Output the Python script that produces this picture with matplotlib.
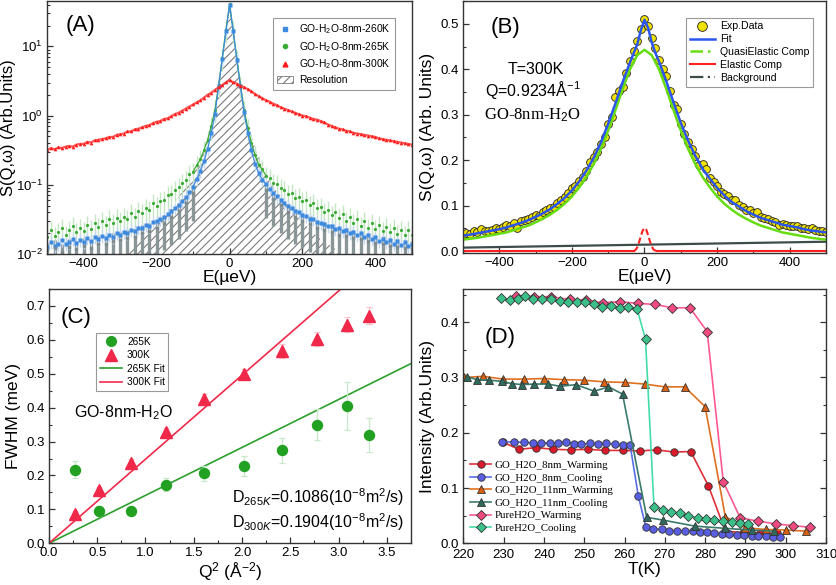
import numpy as np
import matplotlib
matplotlib.use("Agg")
from matplotlib import pyplot as plt
from matplotlib.lines import Line2D
from matplotlib.patches import Patch
from matplotlib.ticker import MultipleLocator, LogLocator, NullFormatter

plt.rcParams["font.family"] = ["Liberation Sans", "DejaVu Sans"]
plt.rcParams["mathtext.fontset"] = "custom"
plt.rcParams["mathtext.rm"] = "Liberation Sans"
plt.rcParams["mathtext.it"] = "Liberation Sans:italic"
plt.rcParams["mathtext.bf"] = "Liberation Sans:bold"
plt.rcParams["hatch.linewidth"] = 0.8
plt.rcParams["axes.linewidth"] = 1.0
plt.rcParams["axes.edgecolor"] = "#333333"

# ---------------- panel A : spectra on log scale (log10 values) ----------------
e_a = np.arange(-500, 501, 10)
red_300k_log = [
    -0.50, -0.47, -0.49, -0.46, -0.47, -0.45, -0.44, -0.45, -0.42, -0.41,
    -0.41, -0.38, -0.39, -0.36, -0.35, -0.34, -0.33, -0.31, -0.31, -0.28,
    -0.27, -0.26, -0.23, -0.23, -0.20, -0.19, -0.17, -0.15, -0.14, -0.11,
    -0.09, -0.08, -0.05, -0.04, -0.01, 0.02, 0.04, 0.07, 0.10, 0.13,
    0.16, 0.19, 0.22, 0.26, 0.30, 0.33, 0.37, 0.41, 0.44, 0.48,
    0.51,
    0.48, 0.46, 0.43, 0.41, 0.38, 0.35, 0.31, 0.28, 0.25, 0.22,
    0.20, 0.17, 0.15, 0.12, 0.10, 0.08, 0.06, 0.04, 0.02, 0.00,
    -0.01, -0.03, -0.05, -0.06, -0.08, -0.10, -0.13, -0.15, -0.17, -0.19,
    -0.20, -0.22, -0.23, -0.25, -0.26, -0.27, -0.28, -0.29, -0.30, -0.31,
    -0.33, -0.34, -0.35, -0.36, -0.37, -0.38, -0.39, -0.40, -0.41, -0.42,
]
blue_260k_log = [
    -1.90, -1.83, -1.88, -1.85, -1.80, -1.86, -1.83, -1.78, -1.84, -1.80,
    -1.83, -1.77, -1.81, -1.75, -1.79, -1.74, -1.77, -1.72, -1.75, -1.70,
    -1.73, -1.68, -1.70, -1.65, -1.67, -1.62, -1.63, -1.58, -1.59, -1.54,
    -1.53, -1.49, -1.47, -1.42, -1.38, -1.34, -1.29, -1.23, -1.18, -1.10,
    -1.03, -0.92, -0.80, -0.66, -0.48, -0.25, 0.02, 0.42, 0.82, 1.22,
    1.60,
    1.22, 0.80, 0.42, 0.05, -0.25, -0.50, -0.70, -0.83, -0.93, -0.99,
    -1.06, -1.12, -1.17, -1.22, -1.27, -1.31, -1.34, -1.38, -1.40, -1.44,
    -1.45, -1.49, -1.50, -1.54, -1.55, -1.57, -1.60, -1.59, -1.64, -1.63,
    -1.67, -1.65, -1.70, -1.68, -1.72, -1.70, -1.76, -1.73, -1.78, -1.76,
    -1.81, -1.78, -1.83, -1.80, -1.85, -1.81, -1.87, -1.83, -1.89, -1.86,
]
green_265k_log = [
    -1.76, -1.66, -1.74, -1.68, -1.62, -1.73, -1.66, -1.60, -1.69, -1.62,
    -1.67, -1.58, -1.64, -1.55, -1.61, -1.53, -1.58, -1.50, -1.56, -1.48,
    -1.53, -1.46, -1.49, -1.41, -1.46, -1.38, -1.41, -1.33, -1.36, -1.27,
    -1.31, -1.23, -1.22, -1.15, -1.13, -1.07, -1.04, -0.97, -0.93, -0.85,
    -0.81, -0.72, -0.63, -0.50, -0.35, -0.15, 0.08, 0.44, 0.83, 1.23,
    1.61,
    1.23, 0.82, 0.44, 0.08, -0.18, -0.40, -0.57, -0.71, -0.78, -0.87,
    -0.90, -0.97, -0.99, -1.05, -1.07, -1.13, -1.12, -1.19, -1.18, -1.24,
    -1.22, -1.29, -1.27, -1.34, -1.32, -1.39, -1.36, -1.44, -1.40, -1.48,
    -1.43, -1.52, -1.47, -1.56, -1.50, -1.59, -1.53, -1.63, -1.56, -1.64,
    -1.58, -1.67, -1.61, -1.69, -1.63, -1.71, -1.65, -1.73, -1.66, -1.72,
]
spec_rel_err = 0.35
# resolution function (hatched area) and raw resolution points in the wings
res_e = [-500, -300, -230, -185, -150, -120, -100, -75, -60, -45, -30, -20, -15, -10, 0,
         10, 15, 20, 30, 45, 60, 75, 100, 120, 150, 195, 240, 310, 500]
res_log = [-2.3, -2.05, -1.75, -1.5, -1.25, -1.03, -0.85, -0.55, -0.3, 0.0, 0.5, 0.75, 0.95, 1.1, 1.61,
           1.1, 0.95, 0.75, 0.5, 0.0, -0.3, -0.55, -0.85, -1.03, -1.25, -1.51, -1.75, -2.0, -2.3]
res_pts_e = [-500, -480, -460, -440, -420, -400, -380, -360, -340, -320, -300, -280, -260, -240,
             -220, -200, -180, -160, -140, -120, -100,
             100, 120, 140, 160, 180, 200, 220, 240, 260, 280, 300, 320, 340, 360, 380,
             400, 420, 440, 460, 480, 500]
res_pts_log = [-1.95, -1.92, -1.97, -1.90, -1.93, -1.88, -1.91, -1.85, -1.86, -1.81, -1.80, -1.77,
               -1.75, -1.70, -1.67, -1.62, -1.55, -1.47, -1.38, -1.27, -1.12,
               -1.08, -1.20, -1.30, -1.39, -1.46, -1.52, -1.57, -1.62, -1.66, -1.68, -1.72,
               -1.74, -1.77, -1.79, -1.81, -1.84, -1.86, -1.88, -1.90, -1.91, -1.93]
res_rel_err = 0.6

# ---------------- panel B : T=300K fit ----------------
e_b = np.arange(-500, 501, 10)
exp_data = [
    0.036, 0.040, 0.037, 0.044, 0.041, 0.048, 0.045, 0.043, 0.047, 0.050,
    0.049, 0.053, 0.058, 0.056, 0.061, 0.050, 0.066, 0.068, 0.071, 0.074,
    0.080, 0.077, 0.086, 0.090, 0.094, 0.097, 0.105, 0.113, 0.119, 0.128,
    0.138, 0.143, 0.155, 0.164, 0.176, 0.197, 0.207, 0.219, 0.236, 0.250,
    0.279, 0.296, 0.338, 0.352, 0.362, 0.392, 0.418, 0.440, 0.462, 0.488,
    0.510,
    0.495, 0.470, 0.448, 0.420, 0.400, 0.385, 0.352, 0.322, 0.312, 0.279,
    0.258, 0.240, 0.225, 0.210, 0.190, 0.192, 0.181, 0.160, 0.151, 0.143,
    0.130, 0.126, 0.122, 0.112, 0.112, 0.101, 0.097, 0.091, 0.091, 0.083,
    0.085, 0.076, 0.072, 0.070, 0.067, 0.064, 0.058, 0.059, 0.058, 0.056,
    0.055, 0.056, 0.050, 0.051, 0.048, 0.050, 0.047, 0.044, 0.043, 0.042,
]
fit_e = [-500, -480, -460, -440, -420, -400, -380, -360, -340, -320, -300, -280, -260, -240,
         -220, -200, -180, -160, -140, -120, -100, -80, -60, -40, -30, -20, -10, 0,
         10, 20, 30, 40, 60, 80, 100, 120, 140, 160, 180, 200, 220, 240, 260, 280, 300,
         320, 340, 360, 380, 400, 420, 440, 460, 480, 500]
fit_val = [0.034, 0.036, 0.039, 0.042, 0.045, 0.048, 0.052, 0.057, 0.062, 0.068, 0.075, 0.083,
           0.092, 0.104, 0.117, 0.133, 0.153, 0.177, 0.205, 0.239, 0.280, 0.325, 0.372, 0.415,
           0.435, 0.455, 0.486, 0.509,
           0.491, 0.459, 0.436, 0.417, 0.374, 0.327, 0.282, 0.243, 0.209, 0.181, 0.159, 0.139,
           0.122, 0.108, 0.098, 0.088, 0.080, 0.073, 0.068, 0.063, 0.058, 0.055, 0.052, 0.048,
           0.045, 0.043, 0.041]
qe_e = [-500, -480, -460, -440, -420, -400, -380, -360, -340, -320, -300, -280, -260, -240,
        -220, -200, -180, -160, -140, -120, -100, -80, -60, -40, -20, 0,
        20, 40, 60, 80, 100, 120, 140, 160, 180, 200, 220, 240, 260, 280, 300,
        320, 340, 360, 380, 400, 420, 440, 460, 480, 500]
qe_val = [0.025, 0.027, 0.029, 0.032, 0.035, 0.038, 0.041, 0.046, 0.051, 0.056, 0.063, 0.071,
          0.080, 0.091, 0.104, 0.120, 0.140, 0.163, 0.191, 0.225, 0.265, 0.310, 0.357, 0.400,
          0.431, 0.443,
          0.431, 0.400, 0.357, 0.310, 0.265, 0.225, 0.191, 0.163, 0.140, 0.120, 0.104, 0.091,
          0.080, 0.071, 0.063, 0.056, 0.051, 0.046, 0.041, 0.038, 0.035, 0.032, 0.029, 0.027,
          0.025]
el_e = [-500, -30, -25, -20, -15, -10, -5, 0, 5, 10, 15, 20, 25, 30, 35, 500]
el_val = [0.0, 0.0, 0.002, 0.008, 0.019, 0.033, 0.045, 0.051, 0.047, 0.035, 0.021,
          0.010, 0.003, 0.001, 0.0, 0.0]
bg_e = [-500, 500]
bg_val = [0.0075, 0.0205]

# ---------------- panel C : FWHM vs Q^2 ----------------
q2 = [0.27, 0.52, 0.845, 1.21, 1.61, 2.02, 2.41, 2.78, 3.09, 3.32]
fwhm_265 = [0.217, 0.095, 0.095, 0.173, 0.207, 0.227, 0.275, 0.350, 0.405, 0.320]
err_265 = [0.025, 0.015, 0.012, 0.02, 0.022, 0.03, 0.037, 0.045, 0.07, 0.05]
fwhm_300 = [0.085, 0.157, 0.237, 0.327, 0.425, 0.500, 0.567, 0.602, 0.645, 0.671]
err_300 = [0.01, 0.01, 0.012, 0.012, 0.015, 0.015, 0.02, 0.02, 0.022, 0.025]
q2_fit = [0.0, 3.75]
fit_265 = [0.0, 0.53]
fit_300 = [0.0, 0.93]

# ---------------- panel D : intensity vs T ----------------
t_8w = [229.8, 233.8, 238.0, 242.3, 246.6, 250.9, 255.2, 259.5, 263.8, 268.0, 272.3, 276.4,
        280.8, 285.0, 289.3, 293.5, 297.7]
i_8w = [0.183, 0.170, 0.173, 0.170, 0.169, 0.170, 0.168, 0.168, 0.167, 0.169, 0.165, 0.166,
        0.104, 0.022, 0.019, 0.018, 0.018]
t_8c = [229.6, 232.7, 235.1, 237.3, 239.3, 241.4, 243.5, 245.4, 247.5, 249.3, 251.4, 253.4,
        255.5, 257.6, 259.5, 261.4, 263.4, 265.3, 267.1, 269.2, 271.1, 273.1, 275.0, 277.1,
        278.7, 280.4, 282.3, 284.1, 286.0, 287.8, 289.7, 291.6, 293.2, 295.0, 296.9, 298.6]
i_8c = [0.184, 0.183, 0.183, 0.181, 0.182, 0.181, 0.182, 0.183, 0.180, 0.179, 0.181, 0.180,
        0.181, 0.179, 0.178, 0.177, 0.086, 0.029, 0.026, 0.025, 0.023, 0.023, 0.022, 0.022,
        0.020, 0.020, 0.019, 0.017, 0.016, 0.015, 0.015, 0.014, 0.014, 0.013, 0.012, 0.012]
t_11w = [220.3, 225.0, 229.8, 235.1, 240.0, 244.9, 249.9, 254.9, 260.0, 265.0, 270.0, 274.9,
         280.0, 285.0, 290.0, 295.0, 300.0, 305.0]
i_11w = [0.300, 0.302, 0.297, 0.297, 0.298, 0.296, 0.295, 0.292, 0.291, 0.288, 0.283, 0.283,
         0.247, 0.048, 0.028, 0.025, 0.024, 0.022]
t_11c = [221.0, 223.5, 226.5, 229.5, 232.0, 234.5, 237.5, 241.0, 244.0, 248.0, 252.5, 256.0,
         259.5, 265.5, 269.5, 277.5, 285.0, 291.5, 297.0]
i_11c = [0.301, 0.296, 0.295, 0.293, 0.289, 0.287, 0.288, 0.288, 0.284, 0.287, 0.275, 0.283,
         0.270, 0.047, 0.042, 0.031, 0.027, 0.024, 0.022]
t_pw = [233.0, 237.5, 241.8, 246.4, 250.5, 254.7, 258.8, 263.3, 267.6, 271.8, 276.2, 280.5,
        284.5, 288.7, 293.2, 297.6, 301.7, 306.0]
i_pw = [0.447, 0.446, 0.446, 0.441, 0.440, 0.435, 0.437, 0.434, 0.432, 0.426, 0.426, 0.383,
        0.111, 0.046, 0.040, 0.035, 0.032, 0.029]
t_pc = [229.4, 231.5, 233.5, 235.4, 237.3, 239.5, 241.7, 243.9, 246.0, 248.1, 250.2, 252.4,
        254.5, 256.6, 258.8, 260.9, 263.1, 265.2, 267.3, 269.5, 271.5, 273.8, 275.8, 278.1,
        280.2, 282.3, 284.5, 286.6, 288.7, 290.7]
i_pc = [0.444, 0.440, 0.442, 0.447, 0.441, 0.441, 0.441, 0.439, 0.437, 0.436, 0.437, 0.433,
        0.428, 0.430, 0.426, 0.427, 0.424, 0.369, 0.066, 0.061, 0.057, 0.054, 0.050, 0.046,
        0.044, 0.042, 0.040, 0.038, 0.036, 0.034]


def style_axes(ax):
    ax.tick_params(which="both", direction="in", top=False, right=False,
                   labelsize=9.5, color="#333333", pad=3)
    ax.tick_params(which="major", length=4, width=0.9)
    ax.tick_params(which="minor", length=2.2, width=0.8)


fig = plt.figure(figsize=(8.37, 5.85), dpi=100)

# ---------------- A ----------------
axA = fig.add_axes([0.0565, 0.566, 0.4355, 0.432])
axA.set_yscale("log")
axA.fill_between(res_e, 10 ** np.array(res_log), 1e-3, facecolor="none",
                 edgecolor="#7a7a7a", hatch="////", linewidth=0)
res_y = 10 ** np.array(res_pts_log)
axA.errorbar(res_pts_e, res_y, yerr=[res_y * res_rel_err, res_y * 0.3], fmt="s", ms=1.5,
             color="#7d8a8e", ecolor="#8a9598", elinewidth=2.4, capsize=0)
green_y = 10 ** np.array(green_265k_log)
blue_y = 10 ** np.array(blue_260k_log)
red_y = 10 ** np.array(red_300k_log)
axA.errorbar(e_a, green_y, yerr=green_y * spec_rel_err, fmt="none", ecolor="#c6e6c3",
             elinewidth=1.0, capsize=0)
axA.errorbar(e_a, blue_y, yerr=blue_y * spec_rel_err * 0.6, fmt="none", ecolor="#c4d8f2",
             elinewidth=1.0, capsize=0)
axA.plot(e_a, green_y, "o", ms=2.3, color="#3aab35", mec="none")
axA.plot(e_a[40:61], green_y[40:61], "-", lw=0.9, color="#3aab35")
axA.plot(e_a, blue_y, "s", ms=2.2, color="#3d8be0", mec="none")
axA.plot(e_a[40:61], blue_y[40:61], "-", lw=0.9, color="#3d8be0")
axA.plot(e_a, red_y, "-", lw=1.6, color="#ff3030", alpha=0.8)
axA.plot(e_a, red_y, "^", ms=2.6, color="#ff1a1a", mec="none")
axA.set_xlim(-500, 500)
axA.set_ylim(0.01, 45)
axA.xaxis.set_major_locator(MultipleLocator(200))
axA.xaxis.set_minor_locator(MultipleLocator(100))
axA.yaxis.set_minor_locator(LogLocator(base=10, subs=np.arange(2, 10)))
axA.yaxis.set_minor_formatter(NullFormatter())
style_axes(axA)
axA.set_xlabel("E(µeV)", fontsize=12.5, labelpad=0)
axA.set_ylabel("S(Q,ω) (Arb.Units)", fontsize=12, labelpad=0)
axA.text(0.09, 0.905, "(A)", transform=axA.transAxes, fontsize=16, ha="center", va="center")
handlesA = [
    Line2D([], [], marker="s", ls="none", color="#3d8be0", ms=3),
    Line2D([], [], marker="o", ls="none", color="#3aab35", ms=3),
    Line2D([], [], marker="^", ls="none", color="#ff1a1a", ms=3.5),
    Patch(facecolor="none", edgecolor="#7a7a7a", hatch="////", linewidth=0.6),
]
legA = axA.legend(handlesA, ["GO-H$_2$O-8nm-260K", "GO-H$_2$O-8nm-265K", "GO-H$_2$O-8nm-300K",
                             "Resolution"],
                  loc="upper right", bbox_to_anchor=(0.955, 0.935), borderaxespad=0,
                  fontsize=7.4, fancybox=False, edgecolor="#999999", framealpha=1,
                  borderpad=0.45, labelspacing=0.38, handlelength=1.5, handletextpad=0.6)
legA.get_frame().set_linewidth(0.8)

# ---------------- B ----------------
axB = fig.add_axes([0.553, 0.567, 0.434, 0.431])
axB.plot(e_b, exp_data, "o", ms=5.6, mfc="#f2e200", mec="#222222", mew=0.6)
axB.plot(bg_e, bg_val, "-", color="#3d4b4b", lw=1.6)
axB.plot([el_e[0], el_e[1]], [el_val[0], el_val[1]], "-", color="#ff2020", lw=1.5)
axB.plot([el_e[-2], el_e[-1]], [el_val[-2], el_val[-1]], "-", color="#ff2020", lw=1.5)
axB.plot(el_e[1:-1], el_val[1:-1], "--", color="#ff2020", lw=1.5, dashes=(3, 1.5))
axB.plot(qe_e, qe_val, "-", color="#66dd11", lw=1.8)
axB.plot(fit_e, fit_val, "-", color="#2a55ee", lw=1.8)
axB.set_xlim(-500, 500)
axB.set_ylim(-0.005, 0.55)
axB.xaxis.set_major_locator(MultipleLocator(200))
axB.xaxis.set_minor_locator(MultipleLocator(100))
axB.yaxis.set_major_locator(MultipleLocator(0.1))
axB.yaxis.set_minor_locator(MultipleLocator(0.05))
style_axes(axB)
axB.set_xlabel("E(μeV)", fontsize=12.5, labelpad=0)
axB.set_ylabel("S(Q,ω) (Arb. Units)", fontsize=12.5, labelpad=4)
axB.text(0.118, 0.897, "(B)", transform=axB.transAxes, fontsize=16, ha="center", va="center")
axB.text(0.2, 0.73, "T=300K", transform=axB.transAxes, fontsize=11.5, ha="center", va="center")
axB.text(0.193, 0.647, "Q=0.9234Å$^{-1}$", transform=axB.transAxes, fontsize=11.5,
         ha="center", va="center")
axB.text(0.193, 0.548, "GO-8nm-H$_2$O", transform=axB.transAxes, fontsize=12,
         family="Liberation Serif", ha="center", va="center")
handlesB = [
    Line2D([], [], marker="o", ls="none", mfc="#f2e200", mec="#222222", ms=7, mew=0.6),
    Line2D([], [], color="#2a55ee", lw=1.8),
    Line2D([], [], color="#66dd11", lw=1.8, ls=(0, (5, 2, 1, 2, 1, 2))),
    Line2D([], [], color="#ff2020", lw=1.5),
    Line2D([], [], color="#3d4b4b", lw=1.6, ls=(0, (6, 2, 1, 2))),
]
legB = axB.legend(handlesB, ["Exp.Data", "Fit", "QuasiElastic Comp", "Elastic Comp", "Background"],
                  loc="upper right", bbox_to_anchor=(0.965, 0.935), borderaxespad=0,
                  fontsize=7.6, fancybox=False, edgecolor="#999999", framealpha=1,
                  borderpad=0.35, labelspacing=0.28, handlelength=2.4, handletextpad=0.5)
legB.get_frame().set_linewidth(0.8)

# ---------------- C ----------------
axC = fig.add_axes([0.0585, 0.0713, 0.4325, 0.4347])
axC.plot(q2_fit, fit_265, "-", color="#2ca02c", lw=1.2)
axC.plot(q2_fit, fit_300, "-", color="#f02a4a", lw=1.2)
axC.errorbar(q2, fwhm_265, yerr=err_265, fmt="o", ms=7.2, color="#22a022", mec="#22a022",
             ecolor="#c9e8c9", elinewidth=0.9, capsize=2.5, capthick=0.9)
axC.errorbar(q2, fwhm_300, yerr=err_300, fmt="^", ms=8.2, color="#f0284a", mec="#f0284a",
             ecolor="#f7c3cc", elinewidth=0.9, capsize=2.5, capthick=0.9)
axC.set_xlim(0, 3.75)
axC.set_ylim(0, 0.75)
axC.xaxis.set_major_locator(MultipleLocator(0.5))
axC.xaxis.set_minor_locator(MultipleLocator(0.25))
axC.yaxis.set_major_locator(MultipleLocator(0.1))
axC.yaxis.set_minor_locator(MultipleLocator(0.05))
style_axes(axC)
axC.set_xlabel("Q$^2$ (Å$^{-2}$)", fontsize=12.5, labelpad=1)
axC.set_ylabel("FWHM (meV)", fontsize=12.5, labelpad=4)
axC.text(0.075, 0.886, "(C)", transform=axC.transAxes, fontsize=16, ha="center", va="center")
axC.text(0.069, 0.513, "GO-8nm-H$_2$O", transform=axC.transAxes, fontsize=11.5,
         ha="left", va="center")
axC.text(0.506, 0.182, "D$_{265K}$=0.1086(10$^{-8}$m$^2$/s)", transform=axC.transAxes,
         fontsize=11.5, ha="left", va="center")
axC.text(0.506, 0.084, "D$_{300K}$=0.1904(10$^{-8}$m$^2$/s)", transform=axC.transAxes,
         fontsize=11.5, ha="left", va="center")
handlesC = [
    Line2D([], [], marker="o", ls="none", color="#22a022", ms=7),
    Line2D([], [], marker="^", ls="none", color="#f0284a", ms=8),
    Line2D([], [], color="#2ca02c", lw=1.2),
    Line2D([], [], color="#f02a4a", lw=1.2),
]
legC = axC.legend(handlesC, ["265K", "300K", "265K Fit", "300K Fit"], loc="upper left",
                  bbox_to_anchor=(0.13, 0.827), borderaxespad=0, fontsize=7.3,
                  fancybox=False, edgecolor="#999999", framealpha=1, borderpad=0.35,
                  labelspacing=0.35, handlelength=2.2, handletextpad=0.5)
legC.get_frame().set_linewidth(0.8)

# ---------------- D ----------------
axD = fig.add_axes([0.5535, 0.0713, 0.4335, 0.4347])
series_d = [
    (t_8w, i_8w, "o", "#d81a2a", "#e0303a", "GO_H2O_8nm_Warming"),
    (t_8c, i_8c, "o", "#5a5ee0", "#5a6ee8", "GO_H2O_8nm_Cooling"),
    (t_11w, i_11w, "^", "#d9600e", "#e07020", "GO_H2O_11nm_Warming"),
    (t_11c, i_11c, "^", "#2f6b5c", "#3a7a6a", "GO_H2O_11nm_Cooling"),
    (t_pw, i_pw, "D", "#f04a80", "#ff5a8e", "PureH2O_Warming"),
    (t_pc, i_pc, "D", "#3cc08a", "#44dda6", "PureH2O_Cooling"),
]
for t, inten, mk, fc, lc, lab in series_d:
    ms = 5.4 if mk != "D" else 4.8
    axD.plot(t, inten, "-", color=lc, lw=1.2, marker=mk, ms=ms, mfc=fc, mec="#333333",
             mew=0.6, label=lab)
axD.set_xlim(220, 310)
axD.set_ylim(0, 0.46)
axD.xaxis.set_major_locator(MultipleLocator(10))
axD.yaxis.set_major_locator(MultipleLocator(0.1))
axD.yaxis.set_minor_locator(MultipleLocator(0.05))
style_axes(axD)
axD.tick_params(which="both", right=True)
axD.tick_params(axis="x", pad=4)
axD.set_xlabel("T(K)", fontsize=12.5, labelpad=1)
axD.set_ylabel("Intensity (Arb.Units)", fontsize=12.5, labelpad=4)
axD.text(0.101, 0.811, "(D)", transform=axD.transAxes, fontsize=16, ha="center", va="center")
legD = axD.legend(loc="lower left", bbox_to_anchor=(0.0, 0.015), frameon=False,
                  prop={"family": "Liberation Serif", "size": 7.8}, labelspacing=0.28,
                  handlelength=2.0, handletextpad=0.3, borderaxespad=0.2)

fig.savefig("out.png", dpi=100)
